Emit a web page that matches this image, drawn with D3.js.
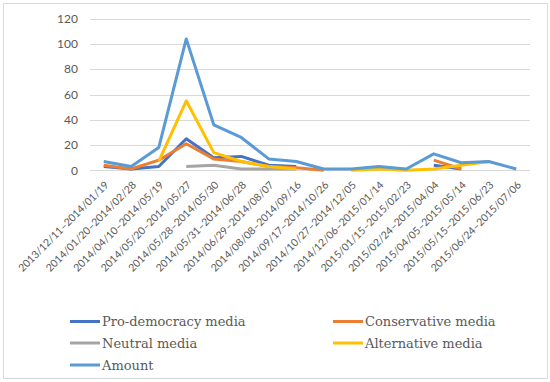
<!DOCTYPE html>
<html>
<head>
<meta charset="utf-8">
<script src="https://cdn.jsdelivr.net/npm/d3@7"></script>
<style>
  body { margin: 0; background: #fff; }
  svg { display: block; }
</style>
</head>
<body>
<svg id="chart"></svg>
<script>
var periods = ["2013/12/11–2014/01/19", "2014/01/20–2014/02/28", "2014/04/10–2014/05/19",
  "2014/05/20–2014/05/27", "2014/05/28–2014/05/30", "2014/05/31–2014/06/28",
  "2014/06/29–2014/08/07", "2014/08/08–2014/09/16", "2014/09/17–2014/10/26",
  "2014/10/27–2014/12/05", "2014/12/06–2015/01/14", "2015/01/15–2015/02/23",
  "2015/02/24–2015/04/04", "2015/04/05–2015/05/14", "2015/05/15–2015/06/23",
  "2015/06/24–2015/07/06"];

var proDemocracy = [3, 1, 3, 25, 10, 11, 4, 3, null, null, null, null, 4, 1, null, null];
var conservative = [4, 1, 8, 21, 9, 7, 3, 2, 0, null, null, null, 8, 1, null, null];
var neutral = [null, null, null, 3, 4, 1, 1, 1, null, null, null, null, null, null, null, null];
var alternative = [null, null, 7, 55, 14, 7, 3, 1, null, 0, 1, 0, 1, 4, 7, null];
var amount = [7, 3, 18, 104, 36, 26, 9, 7, 1, 1, 3, 1, 13, 6, 7, 1];

var yTicks = [0, 20, 40, 60, 80, 100, 120];

var seriesNames = ["Pro-democracy media", "Conservative media", "Neutral media", "Alternative media", "Amount"];
var seriesColors = ["#4472C4", "#ED7D31", "#A5A5A5", "#FFC000", "#5B9BD5"];

var width = 550, height = 382;
var svg = d3.select("#chart").attr("width", width).attr("height", height);

// outer frame
svg.append("rect")
  .attr("x", 3.5).attr("y", 3.5)
  .attr("width", 544).attr("height", 375)
  .attr("fill", "#fff")
  .attr("stroke", "#D9D9D9");

var x = d3.scaleBand().domain(periods).range([90, 530]);
var y = d3.scaleLinear().domain([0, 120]).range([170.3, 18.7]);

// gridlines
svg.append("g").selectAll("line")
  .data(yTicks)
  .enter().append("line")
  .attr("x1", 90).attr("x2", 530)
  .attr("y1", function(d) { return Math.round(y(d)) + 0.5; })
  .attr("y2", function(d) { return Math.round(y(d)) + 0.5; })
  .attr("stroke", "#D9D9D9");

// y labels
svg.append("g").selectAll("text")
  .data(yTicks)
  .enter().append("text")
  .attr("x", 78)
  .attr("y", function(d) { return y(d); })
  .attr("dy", "0.35em")
  .attr("text-anchor", "end")
  .style("font-family", "Lato, 'Open Sans', sans-serif")
  .style("font-size", "12px")
  .style("fill", "#595959")
  .text(function(d) { return d; });

// x labels
svg.append("g").selectAll("text")
  .data(periods)
  .enter().append("text")
  .attr("transform", function(d) {
    return "translate(" + (x(d) + x.bandwidth() / 2 + 3) + ",183) rotate(-45)";
  })
  .attr("dy", "0.35em")
  .attr("text-anchor", "end")
  .style("font-family", "Lato, 'Open Sans', sans-serif")
  .style("font-size", "10.5px")
  .style("fill", "#595959")
  .text(function(d) { return d; });

var allSeries = [proDemocracy, conservative, neutral, alternative, amount];

var line = d3.line()
  .defined(function(d) { return d.v != null; })
  .x(function(d) { return x(d.p) + x.bandwidth() / 2; })
  .y(function(d) { return y(d.v); });

svg.append("g").selectAll("path")
  .data(allSeries)
  .enter().append("path")
  .attr("d", function(s) {
    return line(s.map(function(v, i) { return {p: periods[i], v: v}; }));
  })
  .attr("fill", "none")
  .attr("stroke", function(d, i) { return seriesColors[i]; })
  .attr("stroke-width", 3)
  .attr("stroke-linejoin", "round");

// legend
var legendPos = [[70, 321.5], [333, 321.5], [70, 343], [333, 343], [70, 365]];
var legend = svg.append("g").selectAll("g")
  .data(seriesNames)
  .enter().append("g")
  .attr("transform", function(d, i) { return "translate(" + legendPos[i][0] + "," + legendPos[i][1] + ")"; });

legend.append("line")
  .attr("x1", 0).attr("x2", 30)
  .attr("stroke", function(d, i) { return seriesColors[i]; })
  .attr("stroke-width", 3);

legend.append("text")
  .attr("x", 32)
  .attr("dy", "0.35em")
  .style("font-family", "'DejaVu Serif', serif")
  .style("font-size", "13px")
  .style("fill", "#595959")
  .text(function(d) { return d; });
</script>
</body>
</html>
